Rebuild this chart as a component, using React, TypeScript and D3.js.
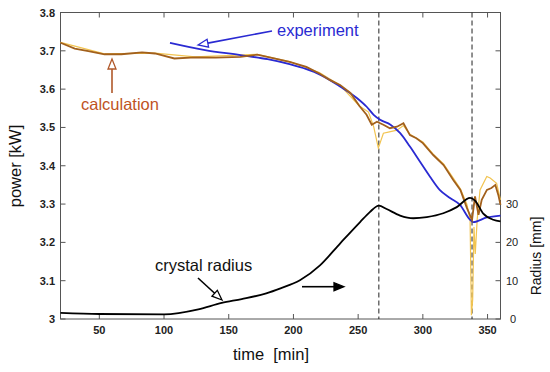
import React from "react";
import * as d3 from "d3";

// ---- data ----
const calcTime = [20, 31, 41.5, 54, 67, 83, 93, 108, 124, 140, 159, 172, 185, 197, 210, 220, 228, 236, 244, 251, 256.5, 260.5, 264.5, 269.5, 274.5, 280, 285, 290, 295, 300, 308, 316, 323.5, 329, 334, 338, 340.3, 343, 345.5, 349.5, 353, 356, 358.3, 360];
const calcPower = [3.721, 3.706, 3.699, 3.691, 3.691, 3.696, 3.693, 3.68, 3.683, 3.682, 3.684, 3.69, 3.68, 3.671, 3.658, 3.641, 3.624, 3.611, 3.59, 3.556, 3.533, 3.507, 3.515, 3.507, 3.498, 3.502, 3.511, 3.48, 3.472, 3.459, 3.428, 3.402, 3.363, 3.337, 3.29, 3.259, 3.32, 3.272, 3.311, 3.337, 3.342, 3.35, 3.324, 3.298];

const calc2Time = [20, 54, 93, 124, 172, 197, 220, 236, 251, 258, 262, 265.6, 269.5, 275, 280, 285, 290, 300, 308, 316, 323.5, 329, 334, 336.5, 337.5, 338.5, 339.5, 340.5, 342, 344.2, 349.4, 352, 357, 360];
const calc2Power = [3.722, 3.692, 3.694, 3.684, 3.691, 3.672, 3.643, 3.61, 3.556, 3.54, 3.502, 3.446, 3.485, 3.489, 3.493, 3.505, 3.482, 3.462, 3.43, 3.405, 3.368, 3.34, 3.3, 3.26, 3.01, 3.05, 3.24, 3.17, 3.26, 3.337, 3.372, 3.368, 3.354, 3.311];

const expTime = [104.6, 131.7, 159, 180, 197, 210, 220.5, 236, 249, 256.6, 262, 267, 275, 282.5, 290, 297.7, 305.4, 313, 321, 328.7, 336.5, 339, 349.4, 360];
const expPower = [3.721, 3.702, 3.689, 3.678, 3.665, 3.652, 3.638, 3.607, 3.577, 3.554, 3.533, 3.52, 3.507, 3.485, 3.45, 3.411, 3.372, 3.337, 3.316, 3.298, 3.259, 3.253, 3.265, 3.27];

const radTime = [20, 50, 100, 126.5, 144.6, 160, 179, 190, 205, 220.5, 236, 251.5, 259, 266, 272, 282.4, 292.7, 303, 315.8, 326.2, 336.5, 340.3, 346.7, 354.4, 360];
const radValue = [1.6, 1.3, 1.2, 2.5, 4.2, 5.2, 6.7, 8.0, 10.1, 14.0, 19.7, 25.3, 27.9, 29.6, 28.7, 27.0, 26.3, 26.6, 27.6, 29.2, 31.6, 30.9, 27.5, 25.9, 25.5];

const markerTimes = [266, 338];
const xTicks = [50, 100, 150, 200, 250, 300, 350];
const powerTicks = [3, 3.1, 3.2, 3.3, 3.4, 3.5, 3.6, 3.7, 3.8];
const radiusTicks = [0, 10, 20, 30, 40, 50, 60, 70, 80];
const radiusLabels = [0, 10, 20, 30];

const W = 550, H = 372;
const L = 60.5, R = 500.5, T = 12.5, B = 319;

export default function App() {
  const x = d3.scaleLinear().domain([20, 360]).range([L, R]);
  const y = d3.scaleLinear().domain([3, 3.8]).range([B, T]);
  const yr = d3.scaleLinear().domain([0, 80]).range([B, T]);

  const mk = (ts: number[], vs: number[]) => ts.map((t, i) => [t, vs[i]] as [number, number]);
  const linePow = d3.line<[number, number]>().x(d => x(d[0])).y(d => y(d[1]));
  const lineSmooth = d3.line<[number, number]>().x(d => x(d[0])).y(d => y(d[1])).curve(d3.curveMonotoneX);
  const lineRad = d3.line<[number, number]>().x(d => x(d[0])).y(d => yr(d[1])).curve(d3.curveMonotoneX);

  const font = "'Liberation Sans', Arial, Helvetica, sans-serif";
  const axisColor = "#555";
  const brown = "#a2601c";
  const yellow = "#f2c450";
  const blue = "#2a2ad2";

  // helper for arrowhead polygon (tip at (tx,ty), from (fx,fy))
  const head = (fx: number, fy: number, tx: number, ty: number, len: number, wid: number) => {
    const a = Math.atan2(ty - fy, tx - fx);
    const bx = tx - len * Math.cos(a), by = ty - len * Math.sin(a);
    const px = -Math.sin(a) * wid / 2, py = Math.cos(a) * wid / 2;
    return `${tx},${ty} ${bx + px},${by + py} ${bx - px},${by - py}`;
  };
  const base = (fx: number, fy: number, tx: number, ty: number, len: number) => {
    const a = Math.atan2(ty - fy, tx - fx);
    return [tx - len * Math.cos(a), ty - len * Math.sin(a)];
  };

  const arrows = [
    { f: [272, 31], t: [198, 45], color: blue, fill: "white" },
    { f: [112, 93], t: [112, 59], color: "#b0582a", fill: "white" },
    { f: [198, 278], t: [222, 300], color: "#000", fill: "white" },
    { f: [302, 286.7], t: [344, 286.7], color: "#000", fill: "#000" },
  ];

  return (
    <svg width={W} height={H} style={{ position: "absolute", left: 0, top: 0, background: "#fff" }} fontFamily={font}>
      <rect x={0} y={0} width={W} height={H} fill="#fff" />
      {/* frame */}
      <rect x={L} y={T} width={R - L} height={B - T} fill="none" stroke={axisColor} strokeWidth={1} />
      {/* x ticks */}
      {xTicks.map(t => (
        <g key={"x" + t}>
          <line x1={x(t)} x2={x(t)} y1={B} y2={B - 5} stroke={axisColor} />
          <line x1={x(t)} x2={x(t)} y1={T} y2={T + 5} stroke={axisColor} />
          <text x={x(t)} y={334} fontSize={11} fontWeight="bold" textAnchor="middle" fill="#222">{t}</text>
        </g>
      ))}
      {powerTicks.map(t => (
        <g key={"p" + t}>
          <line x1={L} x2={L + 5} y1={y(t)} y2={y(t)} stroke={axisColor} />
          <text x={55} y={y(t) + 4} fontSize={11} fontWeight="bold" textAnchor="end" fill="#222">{t === 3 ? "3" : t.toFixed(1)}</text>
        </g>
      ))}
      {radiusTicks.map(t => (
        <line key={"r" + t} x1={R} x2={R - 5} y1={yr(t)} y2={yr(t)} stroke={axisColor} />
      ))}
      {radiusLabels.map(t => (
        <text key={"rl" + t} x={t === 0 ? 510 : 506} y={yr(t) + 4} fontSize={11} fill="#222">{t}</text>
      ))}

      {/* axis titles */}
      <text transform={`translate(21,166) rotate(-90)`} fontSize={16.5} textAnchor="middle" fill="#111">power [kW]</text>
      <text x={271} y={360} fontSize={16.5} textAnchor="middle" fill="#111" style={{ whiteSpace: "pre" }}>{"time  [min]"}</text>
      <text transform={`translate(541,256) rotate(-90)`} fontSize={14} textAnchor="middle" fill="#111">Radius [mm]</text>

      {/* dashed markers */}
      {markerTimes.map(t => (
        <line key={"m" + t} x1={x(t)} x2={x(t)} y1={T} y2={B} stroke="#222" strokeWidth={1} strokeDasharray="5,3" />
      ))}

      {/* data lines */}
      <path d={linePow(mk(calc2Time, calc2Power)) || ""} fill="none" stroke={yellow} strokeWidth={1.2} />
      <path d={lineSmooth(mk(expTime, expPower)) || ""} fill="none" stroke={blue} strokeWidth={1.8} />
      <path d={linePow(mk(calcTime, calcPower)) || ""} fill="none" stroke={brown} strokeWidth={1.8} />
      <path d={lineRad(mk(radTime, radValue)) || ""} fill="none" stroke="#000" strokeWidth={1.8} />

      {/* annotations */}
      {arrows.map((a, i) => {
        const [bx, by] = base(a.f[0], a.f[1], a.t[0], a.t[1], 10);
        return (
          <g key={"a" + i}>
            <line x1={a.f[0]} y1={a.f[1]} x2={bx} y2={by} stroke={a.color} strokeWidth={1.6} />
            <polygon points={head(a.f[0], a.f[1], a.t[0], a.t[1], 10, 8)} fill={a.fill} stroke={a.color} strokeWidth={1.3} />
          </g>
        );
      })}
      <text x={277} y={36} fontSize={16.5} fill={blue}>experiment</text>
      <text x={81} y={110} fontSize={16.5} fill="#c0531f">calculation</text>
      <text x={155} y={271} fontSize={16.5} fill="#111">crystal radius</text>
    </svg>
  );
}
